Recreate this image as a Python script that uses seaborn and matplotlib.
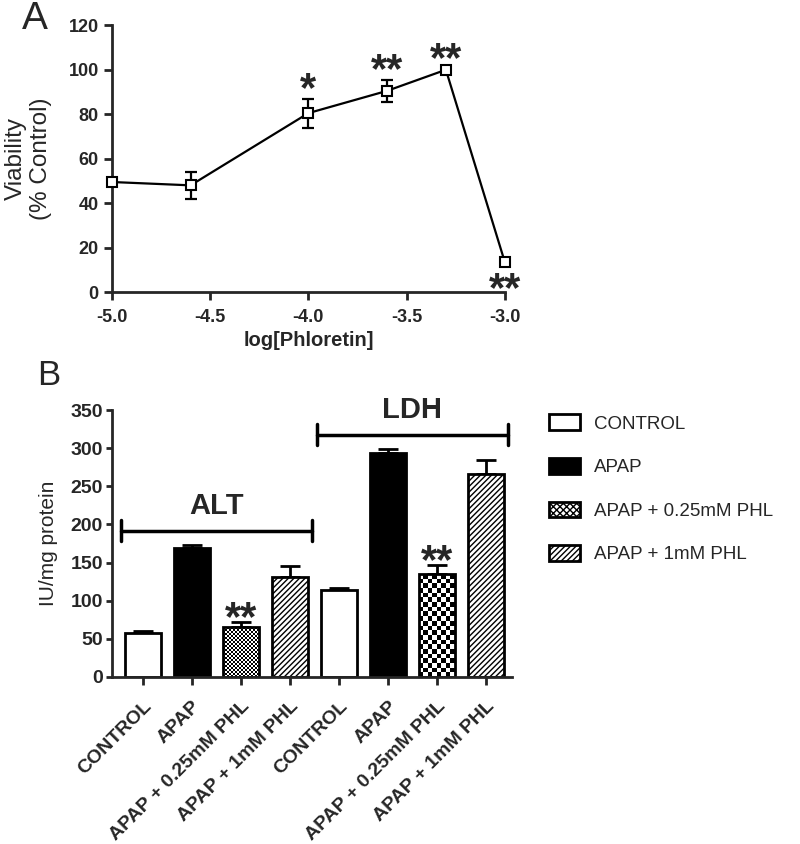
import numpy as np
import pandas as pd
import matplotlib
matplotlib.use('Agg')
import matplotlib.pyplot as plt
from matplotlib.patches import Patch
import seaborn as sns

# ── Panel A: cell viability vs phloretin ──
log_phl       = [-5.0, -4.6, -4.0, -3.6, -3.3, -3.0]
viability     = [49.5, 48.0, 80.5, 90.5, 100.0, 13.5]
viability_err = [1.0, 6.0, 6.5, 5.0, 0.5, 1.5]
stars_a       = ['', '', '*', '**', '**', '**']

# ── Panel B: ALT / LDH ──
groups       = ['ALT'] * 4 + ['LDH'] * 4
treatments   = ['CONTROL', 'APAP', 'APAP + 0.25mM PHL', 'APAP + 1mM PHL'] * 2
activity     = [58, 169, 65, 131, 114, 294, 135, 266]
activity_err = [2, 4, 7, 14, 3, 5, 12, 18]
stars_b      = ['', '', '**', '', '', '', '**', '']

face  = {'CONTROL': 'white', 'APAP': 'black',
         'APAP + 0.25mM PHL': 'none', 'APAP + 1mM PHL': 'white'}
hatch = {'CONTROL': '', 'APAP': '',
         'APAP + 0.25mM PHL': '', 'APAP + 1mM PHL': '//////'}
checker_px = {'ALT': 2.0, 'LDH': 4.6}   # checkerboard cell size in pixels

sns.set_style('ticks')
plt.rcParams['font.family'] = ['Liberation Sans', 'DejaVu Sans']
plt.rcParams['axes.unicode_minus'] = False
plt.rcParams['hatch.linewidth'] = 1.0
plt.rcParams['axes.linewidth'] = 2.0

fig = plt.figure(figsize=(8, 8.44), dpi=100)
fig.patch.set_facecolor('white')

STAR = dict(ha='center', va='baseline', fontsize=30, fontweight='bold')

# ─────────── A ───────────
axa = fig.add_axes([0.14, 0.654, 0.491, 0.316])
df_a = pd.DataFrame({'log': log_phl, 'via': viability})
sns.lineplot(data=df_a, x='log', y='via', ax=axa, color='black', lw=1.6,
             marker='s', markersize=7, markerfacecolor='white',
             markeredgecolor='black', markeredgewidth=1.5, zorder=3, clip_on=False)
axa.errorbar(log_phl, viability, yerr=viability_err, fmt='none', ecolor='black',
             elinewidth=1.6, capsize=4.5, capthick=1.6, zorder=2, clip_on=False)
for x, y, e, s in zip(log_phl, viability, viability_err, stars_a):
    if not s:
        continue
    if y < 30:
        axa.annotate(s, (x, y - e), xytext=(0, -26), textcoords='offset points', **STAR)
    else:
        axa.annotate(s, (x, y + e), xytext=(0, -2), textcoords='offset points', **STAR)
axa.set_xlim(-5.0, -3.0)
axa.set_ylim(0, 120)
axa.set_xticks(np.arange(-5.0, -2.99, 0.5))
axa.set_xticklabels([f'{v:.1f}' for v in np.arange(-5.0, -2.99, 0.5)])
axa.set_yticks(range(0, 121, 20))
axa.tick_params(labelsize=13, width=2, length=6)
axa.tick_params(axis='x', pad=6)
for t in axa.get_xticklabels() + axa.get_yticklabels():
    t.set_fontweight('bold')
axa.set_xlabel('log[Phloretin]', fontsize=14.5, fontweight='bold', labelpad=4)
axa.set_ylabel('Viability\n(% Control)', fontsize=17.5, linespacing=1.15)
axa.yaxis.set_label_coords(-0.153, 0.5)
sns.despine(ax=axa)

# ─────────── B ───────────
axb = fig.add_axes([0.14, 0.198, 0.50, 0.316])
df_b = pd.DataFrame({'bar': [f'{g} {t}' for g, t in zip(groups, treatments)],
                     'act': activity})
sns.barplot(data=df_b, x='bar', y='act', ax=axb, width=0.72, errorbar=None,
            color='white', edgecolor='black', linewidth=2, saturation=1)
axb.set_xlim(-0.63, 7.53)
axb.set_ylim(0, 350)

for p, t, g in zip(axb.patches, treatments, groups):
    p.set_facecolor(face[t])
    p.set_hatch(hatch[t])
    p.set_zorder(2)
    if t == 'APAP + 0.25mM PHL':
        # checkerboard fill, clipped to the bar
        bb = p.get_window_extent()
        nx = max(1, int(round(bb.width / checker_px[g])))
        ny = max(1, int(round(bb.height / checker_px[g])))
        cells = np.indices((ny, nx)).sum(axis=0) % 2
        x0, y0 = p.get_x(), p.get_y()
        im = axb.imshow(cells, cmap='gray', interpolation='nearest', aspect='auto',
                        extent=[x0, x0 + p.get_width(), y0, y0 + p.get_height()],
                        origin='lower', zorder=1.5)
        im.set_clip_path(p)
axb.set_xlim(-0.63, 7.53)
axb.set_ylim(0, 350)

xs = np.arange(len(activity))
axb.errorbar(xs, activity, yerr=[np.zeros(len(activity)), activity_err], fmt='none',
             ecolor='black', elinewidth=2, capsize=7, capthick=2, zorder=1)
for x, y, e, s in zip(xs, activity, activity_err, stars_b):
    if s:
        axb.annotate(s, (x, y + e), xytext=(0, -6), textcoords='offset points', **STAR)

# group brackets
for g in ['ALT', 'LDH']:
    idx = [i for i, gg in enumerate(groups) if gg == g]
    top = max(activity[i] + activity_err[i] for i in idx) + 19
    x0, x1 = idx[0] - 0.45, idx[-1] + 0.45
    axb.plot([x0, x1], [top, top], color='black', lw=2.5, clip_on=False)
    axb.plot([x0, x0], [top - 14, top + 14], color='black', lw=2.5, clip_on=False)
    axb.plot([x1, x1], [top - 14, top + 14], color='black', lw=2.5, clip_on=False)
    axb.annotate(g, ((x0 + x1) / 2, top), xytext=(0, 17.5), textcoords='offset points',
                 ha='center', va='center', fontsize=21, fontweight='bold')

axb.set_yticks(range(0, 351, 50))
axb.set_xticks(xs)
axb.set_xticklabels(treatments, rotation=45, ha='right', rotation_mode='anchor')
axb.tick_params(labelsize=14, width=2, length=6)
axb.tick_params(axis='x', pad=9)
axb.tick_params(axis='y', length=4.5, pad=2)
for t in axb.get_xticklabels() + axb.get_yticklabels():
    t.set_fontweight('bold')
axb.set_xlabel('')
axb.set_ylabel('IU/mg protein', fontsize=15)
axb.yaxis.set_label_coords(-0.135, 0.5)
sns.despine(ax=axb)

legend_labels = ['CONTROL', 'APAP', 'APAP + 0.25mM PHL', 'APAP + 1mM PHL']
leg_hatch = dict(hatch, **{'APAP + 0.25mM PHL': 'xxxxx'})
handles = [Patch(facecolor='black' if t == 'APAP' else 'white', edgecolor='black',
                 hatch=leg_hatch[t], linewidth=2, label=t) for t in legend_labels]
fig.legend(handles=handles, loc='upper left', bbox_to_anchor=(0.674, 0.52),
           frameon=False, fontsize=13.5, handlelength=1.7, handleheight=0.9,
           handletextpad=0.7, labelspacing=1.35, borderpad=0)

fig.text(0.028, 0.977, 'A', fontsize=28, va='center')
fig.text(0.046, 0.555, 'B', fontsize=25, va='center')

plt.savefig('out.png', dpi=100, facecolor='white')
plt.close()
